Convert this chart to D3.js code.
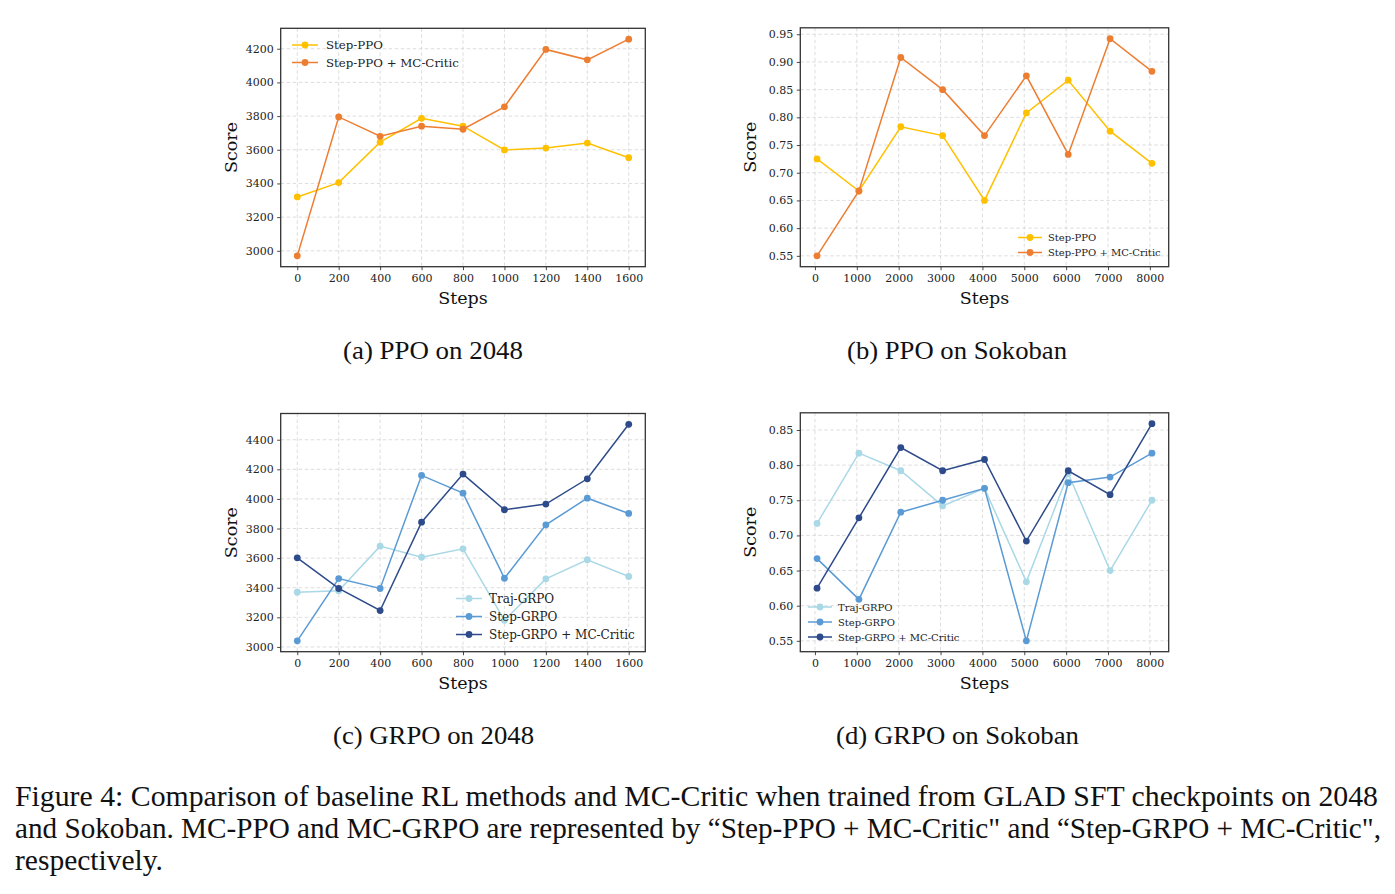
<!DOCTYPE html>
<html>
<head>
<meta charset="utf-8">
<script src="https://cdn.jsdelivr.net/npm/d3@7"></script>
<style>
  html, body { margin: 0; padding: 0; background: #fff; }
  svg { display: block; }
</style>
</head>
<body>
<svg id="fig" width="1395" height="894"></svg>
<script>
// ---------------- data ----------------
const steps2048 = [0, 200, 400, 600, 800, 1000, 1200, 1400, 1600];
const stepsSokoban = [50, 1050, 2050, 3050, 4050, 5050, 6050, 7050, 8050];

const xTicks2048 = [0, 200, 400, 600, 800, 1000, 1200, 1400, 1600];
const xTicksSokoban = [0, 1000, 2000, 3000, 4000, 5000, 6000, 7000, 8000];

const yTicksA = [3000, 3200, 3400, 3600, 3800, 4000, 4200];
const yTicksB = [0.55, 0.60, 0.65, 0.70, 0.75, 0.80, 0.85, 0.90, 0.95];
const yTicksC = [3000, 3200, 3400, 3600, 3800, 4000, 4200, 4400];
const yTicksD = [0.55, 0.60, 0.65, 0.70, 0.75, 0.80, 0.85];

// (a) PPO on 2048
const ppo2048Step = [3320, 3405, 3645, 3787, 3740, 3599, 3610, 3640, 3553];
const ppo2048MC   = [2970, 3795, 3680, 3740, 3722, 3855, 4196, 4134, 4257];
// (b) PPO on Sokoban
const ppoSokStep = [0.725, 0.667, 0.783, 0.767, 0.650, 0.808, 0.867, 0.775, 0.717];
const ppoSokMC   = [0.550, 0.667, 0.908, 0.850, 0.767, 0.875, 0.733, 0.942, 0.883];
// (c) GRPO on 2048
const grpo2048Traj = [3370, 3380, 3681, 3606, 3663, 3180, 3460, 3589, 3476];
const grpo2048Step = [3041, 3462, 3395, 4159, 4039, 3464, 3825, 4005, 3902];
const grpo2048MC   = [3602, 3395, 3246, 3843, 4168, 3927, 3965, 4136, 4504];
// (d) GRPO on Sokoban
const grpoSokTraj = [0.717, 0.817, 0.792, 0.742, 0.767, 0.634, 0.788, 0.650, 0.750];
const grpoSokStep = [0.667, 0.609, 0.733, 0.750, 0.767, 0.550, 0.775, 0.783, 0.817];
const grpoSokMC   = [0.625, 0.725, 0.825, 0.792, 0.808, 0.692, 0.792, 0.758, 0.859];

const ppoNames = ["Step-PPO", "Step-PPO + MC-Critic"];
const grpoNames = ["Traj-GRPO", "Step-GRPO", "Step-GRPO + MC-Critic"];

const subCaptions = ["(a) PPO on 2048", "(b) PPO on Sokoban", "(c) GRPO on 2048", "(d) GRPO on Sokoban"];
const captionLines = [
  "Figure 4: Comparison of baseline RL methods and MC-Critic when trained from GLAD SFT checkpoints on 2048",
  "and Sokoban. MC-PPO and MC-GRPO are represented by \u201cStep-PPO + MC-Critic\" and \u201cStep-GRPO + MC-Critic\",",
  "respectively."
];

// ---------------- styles ----------------
const COL_YELLOW = "#FFC000";
const COL_ORANGE = "#ED7D31";
const COL_LIGHT = "#A9D8E6";
const COL_MID = "#5B9BD5";
const COL_DARK = "#2D4A8A";
const SERIF = "'DejaVu Serif', serif";
const TIMES = "'Liberation Serif', 'Times New Roman', serif";

const svg = d3.select("#fig");

function padDomain(vals) {
  const [a, b] = d3.extent(vals);
  const m = (b - a) * 0.05;
  return [a - m, b + m];
}

function drawPanel(cfg) {
  const g = svg.append("g");
  const allY = cfg.series.flatMap(s => s.values);
  const x = d3.scaleLinear().domain(padDomain(cfg.xs)).range([cfg.L, cfg.R]);
  const y = d3.scaleLinear().domain(padDomain(allY)).range([cfg.B, cfg.T]);

  // grid
  const grid = g.append("g").attr("stroke", "#d4d4d4").attr("stroke-width", 0.8)
    .attr("stroke-dasharray", "3.5,2.5");
  grid.selectAll(".vx").data(cfg.xTicks).enter().append("line")
    .attr("x1", d => x(d)).attr("x2", d => x(d)).attr("y1", cfg.T).attr("y2", cfg.B);
  grid.selectAll(".hy").data(cfg.yTicks).enter().append("line")
    .attr("y1", d => y(d)).attr("y2", d => y(d)).attr("x1", cfg.L).attr("x2", cfg.R);

  // series
  cfg.series.forEach(s => {
    const pts = cfg.xs.map((xv, i) => [xv, s.values[i]]);
    g.append("path").datum(pts)
      .attr("fill", "none").attr("stroke", s.color).attr("stroke-width", 1.5)
      .attr("d", d3.line().x(d => x(d[0])).y(d => y(d[1])));
    g.selectAll(null).data(pts).enter().append("circle")
      .attr("cx", d => x(d[0])).attr("cy", d => y(d[1])).attr("r", 3.4)
      .attr("fill", s.color);
  });

  // axes
  const ax = g.append("g").attr("transform", `translate(0,${cfg.B})`)
    .call(d3.axisBottom(x).tickValues(cfg.xTicks).tickSize(3.5).tickPadding(4.5).tickFormat(d3.format("d")));
  const ay = g.append("g").attr("transform", `translate(${cfg.L},0)`)
    .call(d3.axisLeft(y).tickValues(cfg.yTicks).tickSize(3.5).tickPadding(3.5).tickFormat(cfg.yFormat));
  [ax, ay].forEach(a => {
    a.select(".domain").remove();
    a.selectAll(".tick line").attr("stroke", "#333").attr("stroke-width", 0.9);
    a.selectAll(".tick text").attr("font-family", SERIF).attr("font-size", 11).attr("fill", "#222");
  });

  // frame
  g.append("rect").attr("x", cfg.L).attr("y", cfg.T)
    .attr("width", cfg.R - cfg.L).attr("height", cfg.B - cfg.T)
    .attr("fill", "none").attr("stroke", "#333").attr("stroke-width", 1.3);

  // axis labels
  g.append("text").attr("x", (cfg.L + cfg.R) / 2).attr("y", cfg.B + 37)
    .attr("text-anchor", "middle").attr("font-family", SERIF).attr("font-size", 17.5)
    .attr("fill", "#111").text("Steps");
  g.append("text")
    .attr("transform", `translate(${cfg.L - 44},${(cfg.T + cfg.B) / 2}) rotate(-90)`)
    .attr("text-anchor", "middle").attr("font-family", SERIF).attr("font-size", 17.5)
    .attr("fill", "#111").text("Score");

  // legend
  const lg = g.append("g").attr("transform", `translate(${cfg.legend.x},${cfg.legend.y})`);
  cfg.series.forEach((s, i) => {
    const row = lg.append("g").attr("transform", `translate(0,${i * cfg.legend.dy})`);
    row.append("line").attr("x1", 0).attr("x2", cfg.legend.hw).attr("y1", 0).attr("y2", 0)
      .attr("stroke", s.color).attr("stroke-width", 1.5);
    row.append("circle").attr("cx", cfg.legend.hw / 2).attr("cy", 0).attr("r", 3.4).attr("fill", s.color);
    row.append("text").attr("x", cfg.legend.hw + cfg.legend.gap).attr("y", 0).attr("dy", "0.35em")
      .attr("font-family", SERIF).attr("font-size", cfg.legend.fs).attr("fill", "#222").text(s.name);
  });

  // sub caption
  svg.append("text").attr("x", cfg.cap.x).attr("y", cfg.cap.y)
    .attr("font-family", TIMES).attr("font-size", 26).attr("fill", "#111")
    .attr("textLength", cfg.cap.w).attr("lengthAdjust", "spacingAndGlyphs")
    .text(cfg.cap.text);
}

const fmtInt = d3.format("d");
const fmt2 = d3.format(".2f");

drawPanel({
  L: 280.7, R: 645.3, T: 28.3, B: 266.7,
  xs: steps2048, xTicks: xTicks2048, yTicks: yTicksA, yFormat: fmtInt,
  series: [
    { name: ppoNames[0], values: ppo2048Step, color: COL_YELLOW },
    { name: ppoNames[1], values: ppo2048MC, color: COL_ORANGE }
  ],
  legend: { x: 292, y: 45, dy: 17.5, hw: 26, gap: 8, fs: 11.8 },
  cap: { x: 343, y: 359, w: 180, text: subCaptions[0] }
});

drawPanel({
  L: 800.3, R: 1168.7, T: 27.8, B: 266.7,
  xs: stepsSokoban, xTicks: xTicksSokoban, yTicks: yTicksB, yFormat: fmt2,
  series: [
    { name: ppoNames[0], values: ppoSokStep, color: COL_YELLOW },
    { name: ppoNames[1], values: ppoSokMC, color: COL_ORANGE }
  ],
  legend: { x: 1018, y: 237.5, dy: 15, hw: 24, gap: 6, fs: 10 },
  cap: { x: 847, y: 359, w: 220, text: subCaptions[1] }
});

drawPanel({
  L: 280.7, R: 645.3, T: 413.5, B: 651.7,
  xs: steps2048, xTicks: xTicks2048, yTicks: yTicksC, yFormat: fmtInt,
  series: [
    { name: grpoNames[0], values: grpo2048Traj, color: COL_LIGHT },
    { name: grpoNames[1], values: grpo2048Step, color: COL_MID },
    { name: grpoNames[2], values: grpo2048MC, color: COL_DARK }
  ],
  legend: { x: 456, y: 598.5, dy: 18, hw: 26, gap: 7, fs: 12 },
  cap: { x: 333, y: 744, w: 201, text: subCaptions[2] }
});

drawPanel({
  L: 800.3, R: 1168.7, T: 412.8, B: 651.7,
  xs: stepsSokoban, xTicks: xTicksSokoban, yTicks: yTicksD, yFormat: fmt2,
  series: [
    { name: grpoNames[0], values: grpoSokTraj, color: COL_LIGHT },
    { name: grpoNames[1], values: grpoSokStep, color: COL_MID },
    { name: grpoNames[2], values: grpoSokMC, color: COL_DARK }
  ],
  legend: { x: 808, y: 607, dy: 15, hw: 24, gap: 6, fs: 10 },
  cap: { x: 836, y: 744, w: 243, text: subCaptions[3] }
});

// figure caption
const capWidths = [1363, 1366, 148];
captionLines.forEach((t, i) => {
  svg.append("text").attr("x", 15).attr("y", 806 + i * 32)
    .attr("font-family", TIMES).attr("font-size", 29.5).attr("fill", "#111")
    .attr("textLength", capWidths[i]).attr("lengthAdjust", "spacingAndGlyphs")
    .text(t);
});
</script>
</body>
</html>
